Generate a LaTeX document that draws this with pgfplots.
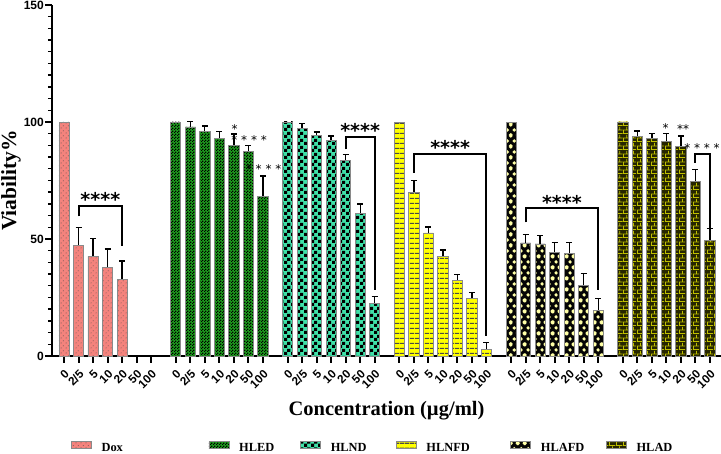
\documentclass[border=0pt]{standalone}
\usepackage{fontspec}
\setmainfont{Liberation Serif}
\newfontfamily\sansb{Liberation Sans}
\newfontfamily\starf{DejaVu Sans}
\usepackage{pgfplots}
\pgfplotsset{compat=1.18}
\usepackage{pgfplotstable}
\usetikzlibrary{patterns}

\definecolor{doxc}{HTML}{F4837D}
\definecolor{hledc}{HTML}{1E9E1E}
\definecolor{hlndc}{HTML}{3FE0A8}
\definecolor{hlnfdc}{HTML}{FFFF00}
\definecolor{hlnfdl}{HTML}{4A4A48}
\definecolor{hlafdc}{HTML}{050505}
\definecolor{hlafdd}{HTML}{FFFFA6}
\definecolor{hladc}{HTML}{262600}
\definecolor{hladl}{HTML}{C0C000}
\definecolor{bordc}{HTML}{8A8A8A}

\pgfdeclarepatternformonly{doxdots}{\pgfpointorigin}{\pgfqpoint{5pt}{5pt}}{\pgfqpoint{5pt}{5pt}}{%
  \pgfpathcircle{\pgfqpoint{1.25pt}{1.25pt}}{0.55pt}%
  \pgfpathcircle{\pgfqpoint{3.75pt}{3.75pt}}{0.55pt}%
  \pgfusepath{fill}}
\pgfdeclarepatternformonly{smallcheck}{\pgfpointorigin}{\pgfqpoint{3pt}{3pt}}{\pgfqpoint{3pt}{3pt}}{%
  \pgfpathrectangle{\pgfpointorigin}{\pgfqpoint{1.5pt}{1.5pt}}%
  \pgfpathrectangle{\pgfqpoint{1.5pt}{1.5pt}}{\pgfqpoint{1.5pt}{1.5pt}}%
  \pgfusepath{fill}}
\pgfdeclarepatternformonly{bigcheck}{\pgfpointorigin}{\pgfqpoint{6.6pt}{6.6pt}}{\pgfqpoint{6.6pt}{6.6pt}}{%
  \pgfpathrectangle{\pgfpointorigin}{\pgfqpoint{3.3pt}{3.3pt}}%
  \pgfpathrectangle{\pgfqpoint{3.3pt}{3.3pt}}{\pgfqpoint{3.3pt}{3.3pt}}%
  \pgfusepath{fill}}
\pgfdeclarepatternformonly{hlinesp}{\pgfpointorigin}{\pgfqpoint{5pt}{5.3pt}}{\pgfqpoint{5pt}{5.3pt}}{%
  \pgfpathrectangle{\pgfpointorigin}{\pgfqpoint{5pt}{1.4pt}}%
  \pgfusepath{fill}}
\pgfdeclarepatternformonly{diamondsp}{\pgfpointorigin}{\pgfqpoint{7pt}{11pt}}{\pgfqpoint{7pt}{11pt}}{%
  \pgfpathmoveto{\pgfqpoint{3.5pt}{3.5pt}}\pgfpathlineto{\pgfqpoint{5.5pt}{5.5pt}}%
  \pgfpathlineto{\pgfqpoint{3.5pt}{7.5pt}}\pgfpathlineto{\pgfqpoint{1.5pt}{5.5pt}}\pgfpathclose
  \pgfpathmoveto{\pgfqpoint{0pt}{-2pt}}\pgfpathlineto{\pgfqpoint{2pt}{0pt}}%
  \pgfpathlineto{\pgfqpoint{0pt}{2pt}}\pgfpathlineto{\pgfqpoint{-2pt}{0pt}}\pgfpathclose
  \pgfpathmoveto{\pgfqpoint{7pt}{-2pt}}\pgfpathlineto{\pgfqpoint{9pt}{0pt}}%
  \pgfpathlineto{\pgfqpoint{7pt}{2pt}}\pgfpathlineto{\pgfqpoint{5pt}{0pt}}\pgfpathclose
  \pgfpathmoveto{\pgfqpoint{0pt}{9pt}}\pgfpathlineto{\pgfqpoint{2pt}{11pt}}%
  \pgfpathlineto{\pgfqpoint{0pt}{13pt}}\pgfpathlineto{\pgfqpoint{-2pt}{11pt}}\pgfpathclose
  \pgfpathmoveto{\pgfqpoint{7pt}{9pt}}\pgfpathlineto{\pgfqpoint{9pt}{11pt}}%
  \pgfpathlineto{\pgfqpoint{7pt}{13pt}}\pgfpathlineto{\pgfqpoint{5pt}{11pt}}\pgfpathclose
  \pgfusepath{fill}}
\pgfdeclarepatternformonly{bricksp}{\pgfpointorigin}{\pgfqpoint{7pt}{8pt}}{\pgfqpoint{7pt}{8pt}}{%
  \pgfpathrectangle{\pgfpointorigin}{\pgfqpoint{7pt}{0.9pt}}%
  \pgfpathrectangle{\pgfqpoint{0pt}{4pt}}{\pgfqpoint{7pt}{0.9pt}}%
  \pgfpathrectangle{\pgfqpoint{0pt}{0pt}}{\pgfqpoint{0.9pt}{4pt}}%
  \pgfpathrectangle{\pgfqpoint{3.5pt}{4pt}}{\pgfqpoint{0.9pt}{4pt}}%
  \pgfusepath{fill}}

\pgfplotsset{
  legimg/.style 2 args={legend image code/.code={%
     \path[##1] (0pt,0pt) rectangle (20pt,7pt);
     \path[pattern=#1, pattern color=#2, draw=bordc, line width=0.6pt] (0pt,0pt) rectangle (20pt,7pt);}},
  solid/.style={fill=#1, draw=none},
  pat/.style 2 args={pattern=#1, pattern color=#2, draw=bordc, line width=0.8pt, forget plot},
  errb/.style={error bars/.cd, y dir=plus, y explicit,
     error bar style={draw=black, line width=1.3pt},
     error mark options={rotate=90, mark size=3pt, draw=black, line width=1.3pt}},
}

% x = bar position, y = viability (%), e = upper error
\pgfplotstableread{
x y e
1 47.1 7.8
2 42.6 7.7
3 38.0 7.7
4 32.9 7.7
}\doxT
\pgfplotstableread{
x y e
8.7 97.9 2.2
9.7 96.0 2.3
10.7 92.9 3.0
11.7 90.1 4.8
12.7 87.3 2.7
13.7 68.1 8.8
}\hledT
\pgfplotstableread{
x y e
16.4 97.1 2.2
17.4 94.3 1.4
18.4 92.3 1.7
19.4 83.6 2.4
20.4 61.1 3.9
21.4 22.6 2.7
}\hlndT
\pgfplotstableread{
x y e
24.1 70.0 5.0
25.1 52.6 2.5
26.1 42.6 2.7
27.1 32.1 2.8
28.1 24.7 2.3
29.1 2.9 2.8
}\hlnfdT
\pgfplotstableread{
x y e
31.8 48.3 3.7
32.8 47.9 3.7
33.8 44.4 4.2
34.8 44.0 4.4
35.8 30.1 5.2
36.8 19.6 5.0
}\hlafdT
\pgfplotstableread{
x y e
39.5 94.0 2.1
40.5 92.9 2.2
41.5 91.6 3.4
42.5 89.4 4.6
43.5 74.4 5.3
44.5 49.3 5.1
}\hladT

\begin{document}
\begin{tikzpicture}
\begin{axis}[
  name=ax,
  scale only axis, width=669pt, height=351pt,
  xmin=-0.83, xmax=45.26, ymin=0, ymax=150,
  enlargelimits=false, clip=false,
  ybar, bar width=0.7,
  every axis plot/.append style={bar shift=0pt},
  axis x line*=bottom, axis y line*=left,
  axis line style={line width=2.2pt, black},
  ytick={0,50,100,150}, minor y tick num=9,
  tick align=outside,
  major tick length=7pt, minor tick length=4pt,
  every major tick/.append style={line width=2pt, black},
  every minor tick/.append style={line width=1.4pt, black},
  xtick={0,1,2,3,4,5,6,7.7,8.7,9.7,10.7,11.7,12.7,13.7,15.4,16.4,17.4,18.4,19.4,20.4,21.4,23.1,24.1,25.1,26.1,27.1,28.1,29.1,30.8,31.8,32.8,33.8,34.8,35.8,36.8,38.5,39.5,40.5,41.5,42.5,43.5,44.5},
  xticklabels={0,2/5,5,10,20,50,100,0,2/5,5,10,20,50,100,0,2/5,5,10,20,50,100,0,2/5,5,10,20,50,100,0,2/5,5,10,20,50,100,0,2/5,5,10,20,50,100},
  x tick label style={rotate=45, anchor=north east, font=\sansb\bfseries\fontsize{11.8}{11.8}\selectfont, inner sep=0pt},
  xticklabel shift=6pt,
  y tick label style={font=\sansb\bfseries\fontsize{12}{12}\selectfont, inner sep=1pt},
  /pgf/number format/assume math mode=true,
  xlabel={Concentration (µg/ml)},
  xlabel style={at={(axis description cs:0.5,-0.1709)}, anchor=base, font=\bfseries\fontsize{20.5}{20.5}\selectfont},
  ylabel={Viability\%},
  ylabel style={at={(axis description cs:-0.0535,0.5)}, anchor=base, font=\bfseries\fontsize{21.5}{21.5}\selectfont},
  legend columns=6,
  legend cell align=left,
  legend style={at={(axis description cs:0.0284,-0.259)}, anchor=west, draw=none, fill=none,
     inner sep=0pt, outer sep=0pt, nodes={inner sep=0pt},
     font=\bfseries\fontsize{12.4}{12.4}\selectfont,
     /tikz/every odd column/.append style={column sep=10pt}},
]
% zero-concentration bars (100 %)
\addplot[solid=doxc, forget plot] coordinates {(0,100)};
\addplot[pat={doxdots}{black!70}] coordinates {(0,100)};
\addplot[solid=hledc, forget plot] coordinates {(7.7,100)};
\addplot[pat={smallcheck}{black}] coordinates {(7.7,100)};
\addplot[solid=hlndc, forget plot] coordinates {(15.4,100)};
\addplot[pat={bigcheck}{black}] coordinates {(15.4,100)};
\addplot[solid=hlnfdc, forget plot] coordinates {(23.1,100)};
\addplot[pat={hlinesp}{hlnfdl}] coordinates {(23.1,100)};
\addplot[solid=hlafdc, forget plot] coordinates {(30.8,100)};
\addplot[pat={diamondsp}{hlafdd}] coordinates {(30.8,100)};
\addplot[solid=hladc, forget plot] coordinates {(38.5,100)};
\addplot[pat={bricksp}{hladl}] coordinates {(38.5,100)};

\addplot[solid=doxc, legimg={doxdots}{black!70}, errb] table[x=x, y=y, y error=e] {\doxT};
\addlegendentry{\makebox[107pt][l]{Dox}}
\addplot[pat={doxdots}{black!70}] table[x=x, y=y] {\doxT};
\addplot[solid=hledc, legimg={smallcheck}{black}, errb] table[x=x, y=y, y error=e] {\hledT};
\addlegendentry{\makebox[61pt][l]{HLED}}
\addplot[pat={smallcheck}{black}] table[x=x, y=y] {\hledT};
\addplot[solid=hlndc, legimg={bigcheck}{black}, errb] table[x=x, y=y, y error=e] {\hlndT};
\addlegendentry{\makebox[65pt][l]{HLND}}
\addplot[pat={bigcheck}{black}] table[x=x, y=y] {\hlndT};
\addplot[solid=hlnfdc, legimg={hlinesp}{hlnfdl}, errb] table[x=x, y=y, y error=e] {\hlnfdT};
\addlegendentry{\makebox[84pt][l]{HLNFD}}
\addplot[pat={hlinesp}{hlnfdl}] table[x=x, y=y] {\hlnfdT};
\addplot[solid=hlafdc, legimg={diamondsp}{hlafdd}, errb] table[x=x, y=y, y error=e] {\hlafdT};
\addlegendentry{\makebox[65pt][l]{HLAFD}}
\addplot[pat={diamondsp}{hlafdd}] table[x=x, y=y] {\hlafdT};
\addplot[solid=hladc, legimg={bricksp}{hladl}, errb] table[x=x, y=y, y error=e] {\hladT};
\addlegendentry{HLAD}
\addplot[pat={bricksp}{hladl}] table[x=x, y=y] {\hladT};

% significance brackets
\draw[line width=2pt, black] (axis cs:1,59.7) |- (axis cs:4,64) -- (axis cs:4,47.1);
\draw[line width=2pt, black] (axis cs:19.4,88.3) |- (axis cs:21.4,93.6) -- (axis cs:21.4,28.3);
\draw[line width=2pt, black] (axis cs:24.1,78.3) |- (axis cs:29.1,86.3) -- (axis cs:29.1,8.6);
\draw[line width=2pt, black] (axis cs:31.8,57.1) |- (axis cs:36.8,63.1) -- (axis cs:36.8,28.3);
\draw[line width=2pt, black] (axis cs:43.5,82.6) |- (axis cs:44.5,86.3) -- (axis cs:44.5,54);

\tikzset{bigstar/.style={font=\starf\bfseries\fontsize{19}{19}\selectfont, inner sep=0pt, yshift=-3pt},
         smallstar/.style={font=\starf\fontsize{12}{12}\selectfont, inner sep=0pt, yshift=-2pt}}
\node[bigstar] at (axis cs:2.5,68) {****};
\node[bigstar] at (axis cs:20.4,97.5) {****};
\node[bigstar] at (axis cs:26.6,90.2) {****};
\node[bigstar] at (axis cs:34.3,67.1) {****};
\node[smallstar] at (axis cs:11.75,97.9) {*};
\node[smallstar] at (axis cs:12.75,93.2) {* * * *};
\node[smallstar] at (axis cs:13.75,80.8) {* * * *};
\node[smallstar] at (axis cs:41.45,98.3) {*};
\node[smallstar] at (axis cs:42.65,97.9) {**};
\node[smallstar] at (axis cs:43.95,89.7) {* * * *};
\end{axis}
\pgfresetboundingbox
\path[use as bounding box] ([shift={(-52pt,-98pt)}]ax.south west) rectangle ([shift={(669pt,5pt)}]ax.north west);
\end{tikzpicture}
\end{document}
